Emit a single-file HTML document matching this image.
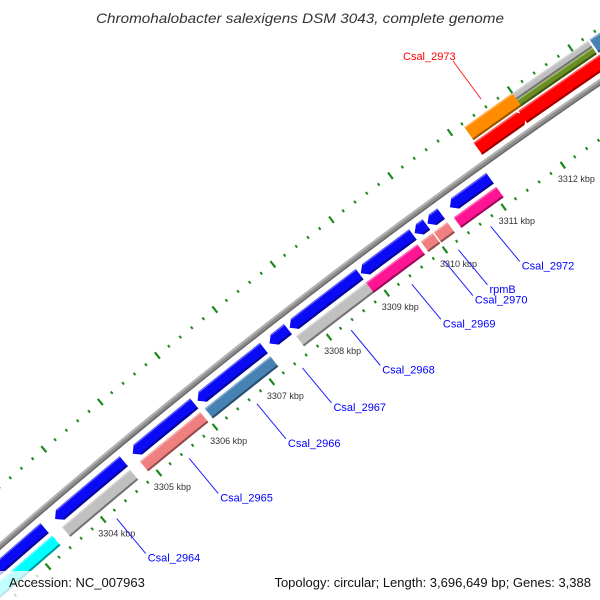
<!DOCTYPE html>
<html><head><meta charset="utf-8"><style>
html,body{margin:0;padding:0;background:#fff}
svg{display:block;font-family:"Liberation Sans",sans-serif}
</style></head><body>
<svg id="map" width="600" height="600" viewBox="0 0 600 600" xmlns="http://www.w3.org/2000/svg">
<rect width="600" height="600" fill="#fff"/>
<g id="ticksOuter"></g>
<g id="ticksInner"></g>
<g id="backbone"></g>
<g id="genes"></g>
<g id="labels"></g>
<text x="300" y="23" text-anchor="middle" font-size="14" font-style="italic" fill="#333" textLength="408" lengthAdjust="spacingAndGlyphs">Chromohalobacter salexigens DSM 3043, complete genome</text>
<rect x="0" y="571" width="146" height="29" fill="#fff" fill-opacity="0.75"/>
<text x="9" y="587" font-size="13" fill="#111">Accession: NC_007963</text>
<text x="591" y="587" text-anchor="end" font-size="13" fill="#111">Topology: circular; Length: 3,696,649 bp; Genes: 3,388</text>
</svg>
<script>
// data
const tickStart = 3302;
const tickEnd = 3314;
const tickLabels = [3304,3305,3306,3307,3308,3309,3310,3311,3312];
// reverse track 1 (blue) [start kbp, end kbp]
const blueStarts = [3302.0,3303.5,3304.89,3306.04,3307.3,3307.65,3308.88,3309.8,3310.02,3310.4];
const blueEnds   = [3303.31,3304.73,3305.98,3307.2,3307.62,3308.86,3309.77,3310.0,3310.25,3311.08];
// reverse track 2 (colored)
const t2Starts = [3302.0,3303.5,3304.9,3306.05,3307.65,3308.86,3309.8,3310.02,3310.36];
const t2Ends   = [3303.32,3304.72,3305.97,3307.2,3308.86,3309.74,3310.0,3310.25,3311.08];
const t2Colors = ["#00ffff","#c0c0c0","#f08080","#4682b4","#c0c0c0","#ff1493","#f08080","#f08080","#ff1493"];
// forward genes
const redStarts = [3311.18,3311.93];
const redEnds = [3311.98,3313.4];
const fwdOuter = [["#ff8c00",3311.2,3312.0,"full"],["#c0c0c0",3312.0,3313.25,"top"],["#6b8e23",3312.0,3313.25,"bot"],["#4682b4",3313.28,3313.8,"full"]];
const geneNames = ["Csal_2964","Csal_2965","Csal_2966","Csal_2967","Csal_2968","Csal_2969","Csal_2970","rpmB","Csal_2972"];
const geneLabelKbp = [3304.15,3305.45,3306.65,3307.45,3308.3,3309.35,3309.9,3310.15,3310.7];

const CX=4280, CY=5462, R0=6518, R_TICK=6471, DEG_PER_KBP=0.6425, THETA0=-40.2;
function pos(k,r){const t=(THETA0+(k-3304)*DEG_PER_KBP)*Math.PI/180;return [CX+r*Math.sin(t),CY-r*Math.cos(t)];}
const NS="http://www.w3.org/2000/svg";
function mk(tag,parent){const e=document.createElementNS(NS,tag);parent.appendChild(e);return e;}
function pts(a){return a.map(p=>p[0].toFixed(1)+","+p[1].toFixed(1)).join(" ");}

// ticks
const gO=document.getElementById('ticksOuter'), gI=document.getElementById('ticksInner');
for(let k=tickStart*5;k<=tickEnd*5;k++){
  const kb=k/5, major=(k%5===0);
  [[gO,6563],[gI,R_TICK]].forEach(([g,r])=>{
    const h=major?4:1.5;
    const a=pos(kb,r-h), b=pos(kb,r+h);
    const l=mk('line',g);
    
    
    l.setAttribute('x1',a[0]);l.setAttribute('y1',a[1]);l.setAttribute('x2',b[0]);l.setAttribute('y2',b[1]);
    l.setAttribute('stroke','#1a8a1a');l.setAttribute('stroke-width',major?2.2:2);
  });
}
const gL=document.getElementById('labels');
tickLabels.forEach(k=>{
  const p=pos(k,R_TICK);
  const t=mk('text',gL);
  
  
  t.setAttribute('x',p[0]-5);t.setAttribute('y',p[1]+17);
  t.setAttribute('font-size','9');t.setAttribute('fill','#333');
  t.textContent=k+" kbp";
});

// backbone
const gB=document.getElementById('backbone');
function arcBand(g,k1,k2,r1,r2,fill,name){
  const a=[];const n=24;
  for(let i=0;i<=n;i++)a.push(pos(k1+(k2-k1)*i/n,r2));
  for(let i=n;i>=0;i--)a.push(pos(k1+(k2-k1)*i/n,r1));
  const p=mk('polygon',g);
  
  
  p.setAttribute('points',pts(a));p.setAttribute('fill',fill);return p;
}
arcBand(gB,3301,3315,R0-3,R0+3,"#8c8c8c","backbone-ring");
arcBand(gB,3301,3315,R0+1,R0+3,"#b4b4b4","backbone-highlight");
arcBand(gB,3301,3315,R0-3,R0-1.5,"#6a6a6a","backbone-shadow");

// genes
const gG=document.getElementById('genes');
function shade(c,f){const n=parseInt(c.slice(1),16);let r=n>>16,g=(n>>8)&255,b=n&255;
  const m=v=>Math.max(0,Math.min(255,Math.round(f>1?v+(255-v)*(f-1):v*f)));
  return "rgb("+m(r)+","+m(g)+","+m(b)+")";}
function gene(s,e,r1,r2,color,dir,name){
  const ah=0.09, rm=(r1+r2)/2;
  let a;
  if(dir<0){a=[pos(s,rm),pos(Math.min(s+ah,e),r2),pos(e,r2),pos(e,r1),pos(Math.min(s+ah,e),r1)];}
  else if(dir>0){a=[pos(s,r1),pos(s,r2),pos(Math.max(e-ah,s),r2),pos(e,rm),pos(Math.max(e-ah,s),r1)];}
  else {a=[pos(s,r1),pos(s,r2),pos(e,r2),pos(e,r1)];}
  const p=mk('polygon',gG);
  
  
  p.setAttribute('points',pts(a));p.setAttribute('fill',color);
  // shadow strip
  const s2=dir<0?s+ah:s, e2=dir>0?e-ah:e;
  if(e2>s2){const sh=arcBand(gG,s2,e2,r1,r1+2,shade(color,0.6),name+'-shadow');}
  if(e2>s2){arcBand(gG,s2,e2,r2-1.5,r2,shade(color,1.35),name+'-highlight');}
}
blueStarts.forEach((s,i)=>gene(s,blueEnds[i],6496,6509,"#0a0af5",-1,"reverse-gene-blue"));
t2Starts.forEach((s,i)=>gene(s,t2Ends[i],6479,6492,t2Colors[i],0,"reverse-gene-"+i));
redStarts.forEach((s,i)=>gene(s,redEnds[i],6526,6541,"#ff0000",1,"forward-gene-red"));
fwdOuter.forEach(f=>{
  const r1=f[3]==="top"?6551:6543, r2=f[3]==="bot"?6551:6559;
  gene(f[1],f[2],r1,r2,f[0],0,"forward-gene-outer");
});

// gene labels with leader lines
geneNames.forEach((n,i)=>{
  const a=pos(geneLabelKbp[i],R_TICK-8);
  const b=[a[0]+29,a[1]+35];
  const l=mk('line',gL);
  
  
  l.setAttribute('x1',a[0]);l.setAttribute('y1',a[1]);l.setAttribute('x2',b[0]);l.setAttribute('y2',b[1]);
  l.setAttribute('stroke','#2020ff');l.setAttribute('stroke-width','1');
  const t=mk('text',gL);
  
  
  t.setAttribute('x',b[0]+2);t.setAttribute('y',b[1]+8);
  t.setAttribute('font-size','11');t.setAttribute('fill','#0000ff');
  t.textContent=n;
});
// Csal_2973 label (outer, red)
const ln=mk('line',gL);


ln.setAttribute('x1','453');ln.setAttribute('y1','61');ln.setAttribute('x2','481');ln.setAttribute('y2','99');
ln.setAttribute('stroke','#ff2020');ln.setAttribute('stroke-width','1');
const tl=mk('text',gL);


tl.setAttribute('x','403');tl.setAttribute('y','60');tl.setAttribute('font-size','11');tl.setAttribute('fill','#ff0000');
tl.textContent="Csal_2973";
</script>
</body></html>
